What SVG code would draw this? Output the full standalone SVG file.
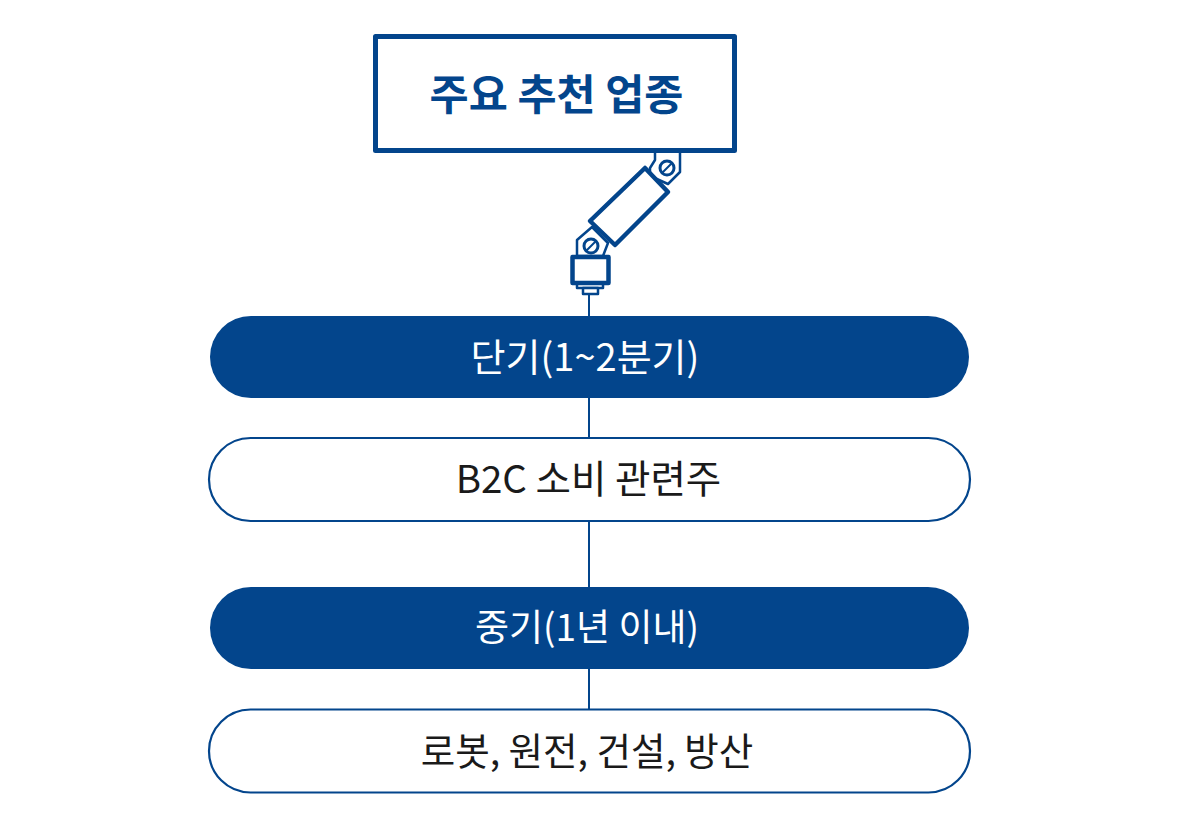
<svg xmlns="http://www.w3.org/2000/svg" width="1200" height="836" viewBox="0 0 1200 836">
<style>
text{font-family:"Noto Sans CJK KR","Noto Sans",sans-serif;text-anchor:middle}
.t{font-size:42.500px;font-weight:700;fill:#03458c}
.w{font-size:37px;font-weight:400;fill:#fff}
.b{font-size:37.500px;font-weight:400;fill:#1a1a1a}
.f{fill:#03458c}
.o{fill:#fff;stroke:#03458c;stroke-width:2.2}
.h{fill:#fff;stroke:#03458c;stroke-linejoin:round}
</style>
<rect width="1200" height="836" fill="#fff"/>
<g id="connectors">
<path d="M589 294V316M589 398V438M589 521V587M589 669V709" fill="none" stroke="#03458c" stroke-width="2"/>
</g>
<g id="hinge">
<path class="h" stroke-width="2.500" d="M655 150V160L650 168V176L668 184L680 172V150Z"/>
<circle class="h" stroke-width="3" cx="667" cy="168" r="7"/>
<path d="M662 173L672 163" stroke="#03458c" stroke-width="2"/>
<path class="h" stroke-width="2.500" d="M592 227L577 240V256H603L608 243Z"/>
<circle class="h" stroke-width="3" cx="591" cy="246" r="7"/>
<path d="M586 251L596 241" stroke="#03458c" stroke-width="2"/>
<path class="h" stroke-width="4.500" d="M645 168L668 192L615 245L590 221Z"/>
<rect class="h" stroke-width="2.500" x="577" y="283" width="26" height="5"/>
<rect class="h" stroke-width="2.500" x="583" y="288" width="15" height="6"/>
<rect class="h" stroke-width="4.500" x="572.500" y="257" width="36" height="26"/>
</g>
<g id="title">
<rect x="375.500" y="36.500" width="359" height="114" fill="#fff" stroke="#03458c" stroke-width="5" stroke-linejoin="round"/>
<text class="t" x="556.500" y="110">주요 추천 업종</text>
</g>
<g id="short-term">
<rect class="f" x="210" y="316" width="759" height="82" rx="41"/>
<text class="w" x="585" y="371" style="font-size:38px">단기(1~2분기)</text>
</g>
<g id="short-term-item">
<rect class="o" x="209" y="438" width="761" height="83" rx="41.500"/>
<text class="b" x="588.500" y="493" style="font-size:38.500px">B2C 소비 관련주</text>
</g>
<g id="mid-term">
<rect class="f" x="210" y="587" width="759" height="82" rx="41"/>
<text class="w" x="587" y="641">중기(1년 이내)</text>
</g>
<g id="mid-term-item">
<rect class="o" x="209" y="709.500" width="761" height="83" rx="41.500"/>
<text class="b" x="587" y="765">로봇, 원전, 건설, 방산</text>
</g>
</svg>
